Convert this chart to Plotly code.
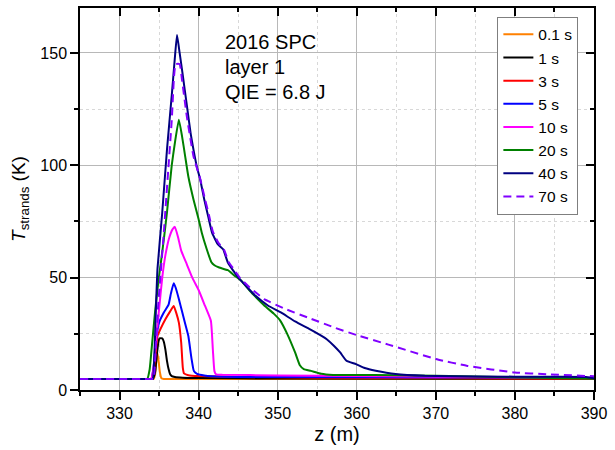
import plotly.graph_objects as go

# Strand temperature profiles along the conductor at successive times
labels = ["0.1 s", "1 s", "3 s", "5 s", "10 s", "20 s", "40 s", "70 s"]
colors = ["#FF8000", "#000000", "#FF0000", "#0000FF", "#FF00FF", "#008000", "#000080", "#8000FF"]
dashes = ["solid", "solid", "solid", "solid", "solid", "solid", "solid", "8px,5px"]

z_01 = [325, 333.0, 334.0, 334.3, 334.5, 334.65, 334.77, 334.9, 335.1, 335.3, 335.6, 336.5,
        340, 390]
T_01 = [4.9, 4.9, 4.9, 4.9, 7, 13, 16.7, 14, 8, 5.2, 4.9, 4.9, 4.9, 4.9]

z_1 = [325, 333.0, 333.9, 334.2, 334.5, 334.7, 334.9, 335.06, 335.4, 335.6, 335.8, 336.0,
       336.2, 336.4, 336.6, 337, 338, 340, 350, 390]
T_1 = [4.9, 4.9, 4.9, 4.9, 8, 15, 21, 23, 23, 21.5, 18, 13, 9.3, 7, 6.2, 5.8, 5.5, 5.3,
       5.1, 5.0]

z_3 = [325, 333.0, 333.7, 334.0, 334.3, 334.6, 334.8, 335.2, 335.8, 336.4, 336.85, 337.2,
       337.5, 337.8, 338.0, 338.15, 338.7, 340, 345, 355, 370, 390]
T_3 = [4.9, 4.9, 4.9, 4.9, 8, 18, 24, 27.3, 31.5, 35, 37.4, 34, 30, 21, 10, 7.4, 6.6, 6.2,
       5.8, 5.5, 5.3, 5.0]

z_5 = [325, 333.0, 333.7, 334.0, 334.3, 334.6, 335.0, 335.6, 336.2, 336.5, 336.85, 337.1,
       337.5, 337.9, 338.3, 338.7, 339.1, 339.4, 339.8, 340.7, 343.2, 350, 370, 390]
T_5 = [4.9, 4.9, 4.9, 4.9, 10, 22, 30, 34.5, 38, 43, 47.5, 45.5, 40.5, 35, 29.5, 24, 14,
       8.4, 7.2, 6.5, 5.9, 5.8, 5.6, 5.5]

z_10 = [325, 333.0, 333.7, 334.0, 334.3, 334.7, 335.0, 335.4, 335.8, 336.3, 336.7, 337.0,
        337.4, 337.8, 338.5, 339.2, 340.0, 340.8, 341.55, 341.8, 342.0, 342.2, 343, 350,
        360, 375, 390]
T_10 = [4.9, 4.9, 4.9, 4.9, 10, 25, 36, 50, 60, 68, 71.5, 72.6, 68, 62, 56, 50, 44.5,
        37.5, 30.8, 18, 8.4, 7.0, 6.8, 6.5, 6.2, 5.8, 5.5]

z_20 = [325, 332.3, 333.2, 333.5, 333.8, 334.1, 334.5, 334.9, 335.2, 335.6, 336.0, 336.6,
        337.0, 337.5, 337.9, 338.3, 338.7, 339.35, 340.0, 340.4, 341.0, 341.6, 342.0, 342.6,
        343.7, 344.5, 345.4, 346.5, 347.5, 348.5, 349.5, 350.3, 351.2, 352.2, 352.8, 353.3,
        354.2, 355.5, 357, 365, 375, 390]
T_20 = [4.9, 4.9, 4.9, 4.9, 9, 20, 35, 48, 56, 67, 79, 100, 110, 120.3, 113, 104, 95,
        84.8, 76, 70, 63, 57, 55.5, 54.5, 53.3, 51, 48.6, 44, 40.4, 37, 34, 31, 25, 16.7,
        11, 9.3, 8.5, 7.2, 6.7, 6.6, 6.0, 5.0]

z_40 = [325, 333.0, 333.9, 334.2, 334.4, 334.6, 334.8, 335.4, 336.0, 336.6, 337.0, 337.27,
        337.6, 338.0, 338.5, 339.0, 339.35, 339.8, 340.2, 340.7, 341.2, 341.7, 342.4, 343.1,
        343.7, 344.4, 345.2, 346.2, 347.2, 348.8, 350.4, 352.2, 354.1, 355.6, 356.2, 357.1,
        357.9, 358.7, 359.9, 361.0, 362.4, 364.9, 368.6, 375, 385, 389, 390]
T_40 = [4.9, 4.9, 4.9, 4.9, 15, 36, 54, 79, 107, 131, 148, 158, 150, 140, 127, 114, 107,
        99, 93.7, 85, 77.4, 70, 65, 62.6, 56.7, 53, 49.3, 45.5, 41.9, 37.5, 34.5, 30.5, 27,
        24, 22.6, 19.7, 16.7, 13, 11.5, 9.8, 8.6, 7.1, 6.3, 6.0, 5.9, 5.8, 5.2]

z_70 = [325, 333.0, 334.0, 334.3, 334.6, 334.9, 335.2, 335.6, 336.2, 336.6, 336.9, 337.1,
        337.6, 337.9, 338.5, 339.35, 340.2, 340.8, 341.3, 341.8, 342.5, 343.2, 343.8, 344.5,
        345.2, 346.2, 347.2, 348.3, 351.0, 354.0, 357.0, 360.0, 364.0, 370.0, 374.0, 380.0,
        384.0, 390]
T_70 = [4.9, 4.9, 4.9, 4.9, 20, 38.5, 52, 70, 100, 120, 140, 145, 145, 138, 122, 104, 94,
        85, 78, 70.5, 65.5, 62.5, 57, 53.5, 50, 46.5, 43.5, 40.4, 36, 32, 28, 24.4, 20.2,
        13.8, 10.7, 7.8, 7.0, 6.1]

z_series = [z_01, z_1, z_3, z_5, z_10, z_20, z_40, z_70]
T_series = [T_01, T_1, T_3, T_5, T_10, T_20, T_40, T_70]

x_range = [325, 390]
y_range = [0, 170]

FONT = "Liberation Sans, Arial, sans-serif"

fig = go.Figure()
for name, zs, ts, col, dash in zip(labels, z_series, T_series, colors, dashes):
    fig.add_trace(go.Scatter(x=zs, y=ts, mode="lines", name=name,
                             line=dict(color=col, width=2, dash=dash,
                                       shape="spline", smoothing=0.4)))

# empty trace that brings up the top/right frame axes
fig.add_trace(go.Scatter(x=[None], y=[None], xaxis="x2", yaxis="y2", showlegend=False,
                         hoverinfo="skip", mode="lines"))

common = dict(showline=True, linecolor="black", linewidth=1.5, tickcolor="black",
              tickwidth=1.5, ticklen=8, zeroline=False)

fig.update_layout(
    width=615, height=450,
    margin=dict(l=80, r=14, t=8, b=59),
    paper_bgcolor="white", plot_bgcolor="white",
    font=dict(family=FONT, color="black", size=16),
    xaxis=dict(range=x_range, dtick=10, tick0=330, ticks="outside",
               showgrid=True, gridcolor="#b8b8b8", gridwidth=1,
               minor=dict(dtick=5, ticks="outside", ticklen=4, tickcolor="black",
                          tickwidth=1.5, showgrid=True, gridcolor="#d8d8d8",
                          griddash="dot", gridwidth=1),
               tickfont=dict(size=16),
               title=dict(text="z (m)", font=dict(size=20), standoff=6),
               **common),
    yaxis=dict(range=y_range, dtick=50, tick0=0, ticks="outside",
               showgrid=True, gridcolor="#b8b8b8", gridwidth=1,
               minor=dict(dtick=25, ticks="outside", ticklen=4, tickcolor="black",
                          tickwidth=1.5, showgrid=True, gridcolor="#d8d8d8",
                          griddash="dot", gridwidth=1),
               tickfont=dict(size=16),
               title=dict(text="<i>T</i><sub>strands</sub> (K)", font=dict(size=19),
                          standoff=10),
               **common),
    xaxis2=dict(range=x_range, dtick=10, tick0=330, overlaying="x", side="top",
                anchor="y2", ticks="inside", showticklabels=False, showgrid=False,
                minor=dict(dtick=5, ticks="inside", ticklen=4, tickcolor="black",
                           tickwidth=1.5, showgrid=False),
                **common),
    yaxis2=dict(range=y_range, dtick=50, tick0=0, overlaying="y", side="right",
                anchor="x2", ticks="inside", showticklabels=False, showgrid=False,
                minor=dict(dtick=25, ticks="inside", ticklen=4, tickcolor="black",
                           tickwidth=1.5, showgrid=False),
                **common),
    legend=dict(x=0.812, y=0.977, xanchor="left", yanchor="top",
                bgcolor="white", bordercolor="#7f7f7f", borderwidth=1,
                font=dict(size=15.5), tracegroupgap=0),
    showlegend=True,
)

notes = ["2016 SPC", "layer 1", "QIE = 6.8 J"]
note_y = [0.911, 0.846, 0.781]
for txt, yy in zip(notes, note_y):
    fig.add_annotation(text=txt, xref="paper", yref="paper", x=0.278, y=yy,
                       xanchor="left", yanchor="middle", showarrow=False,
                       font=dict(size=20, family=FONT, color="black"))

fig.write_html("out.html")
